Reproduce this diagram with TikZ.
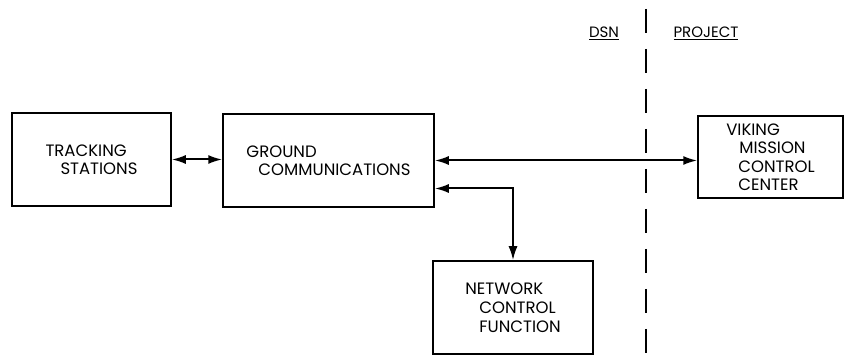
\documentclass[tikz,border=0pt]{standalone}
\usepackage{fontspec}
\setmainfont{Poppins}
\usepackage{tikz}
\usetikzlibrary{arrows.meta, positioning}

\begin{document}
\begin{tikzpicture}[x=1pt, y=-1pt,
    blockbox/.style={draw, line width=1.5pt, align=left, inner sep=0pt,
      font=\fontsize{16.5}{18.5}\selectfont},
    link/.style={line width=2pt, {Latex[length=14pt,width=9pt]}-{Latex[length=14pt,width=9pt]}}]
  \useasboundingbox (0,0) rectangle (846,355);

  % Boxes
  \node[blockbox, minimum width=159pt, minimum height=93pt] (track) at (91.5,159.5)
    {TRACKING\\\hspace*{15pt}STATIONS};
  \node[blockbox, minimum width=211pt, minimum height=93pt] (ground) at (328.5,160.5)
    {GROUND\\\hspace*{12pt}COMMUNICATIONS};
  \node[blockbox, minimum width=145pt, minimum height=82pt] (viking) at (770.5,157)
    {VIKING\\\hspace*{13pt}MISSION\\\hspace*{12pt}CONTROL\\\hspace*{12pt}CENTER};
  \node[blockbox, minimum width=160pt, minimum height=93pt,
    font=\fontsize{16.5}{19}\selectfont] (ncf) at (513,307.5)
    {NETWORK\\\hspace*{14pt}CONTROL\\\hspace*{14pt}FUNCTION};

  % Connectors
  \draw[link] (track.east) -- (track.east -| ground.west);
  \draw[link] (ground.east) -- (ground.east -| viking.west);
  \draw[link] ([yshift=-28pt]ground.east) -| (ncf.north);

  % DSN / project boundary
  \coordinate (bndtop) at (646,9);
  \coordinate (bndbot) at (646,355);
  \draw[line width=1.6pt, dash pattern=on 24pt off 16pt] (bndtop) -- (bndbot);
  \node[font=\fontsize{15}{15}\selectfont] (dsn) at (604,33) {\underline{DSN}};
  \node[font=\fontsize{15}{15}\selectfont] (project) at (706,33) {\underline{PROJECT}};
\end{tikzpicture}
\end{document}
